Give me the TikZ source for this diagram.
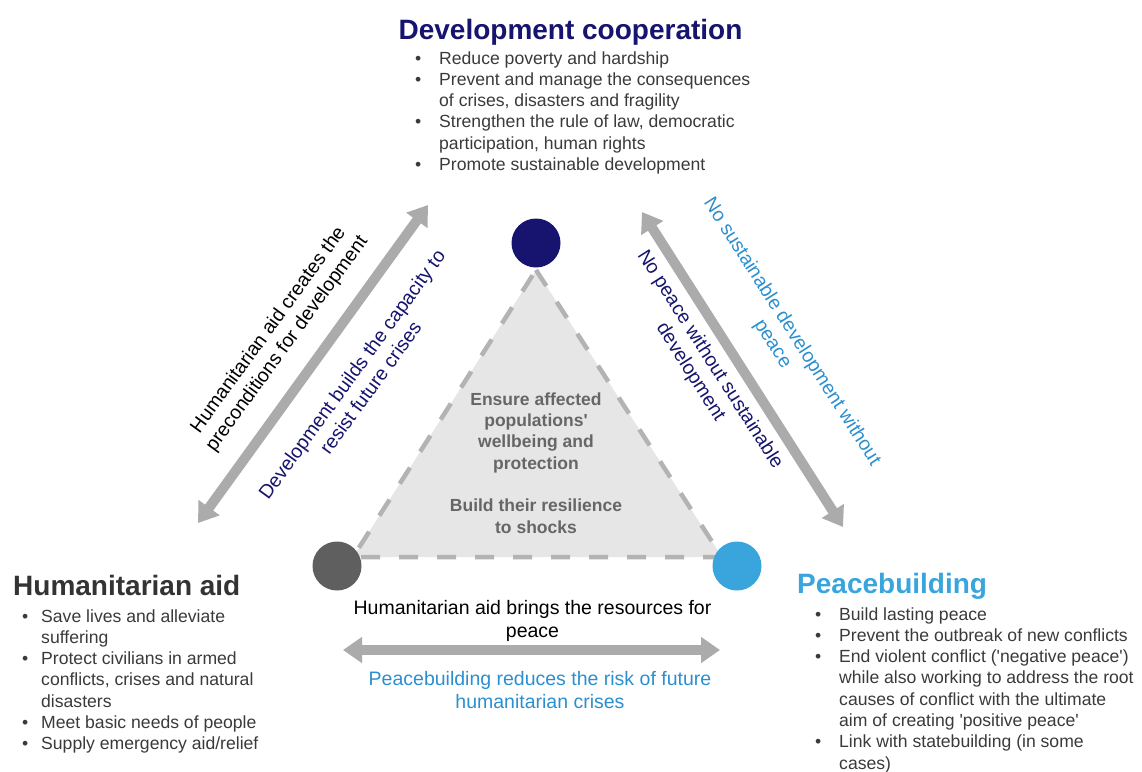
\documentclass[tikz,border=0pt]{standalone}
\usepackage{fontspec}
\setmainfont{Liberation Sans}
\usetikzlibrary{arrows.meta,positioning}
\definecolor{devblue}{HTML}{16146E}
\definecolor{peaceblue}{HTML}{3AA5DC}
\definecolor{peacetext}{HTML}{2B8FCF}
\definecolor{humgrey}{HTML}{5F5F5F}
\definecolor{humhead}{HTML}{333333}
\definecolor{bodytext}{HTML}{3A3A3A}
\definecolor{arrowgrey}{HTML}{ABABAB}
\definecolor{trifill}{HTML}{E6E6E6}
\definecolor{tridash}{HTML}{B3B3B3}
\definecolor{tritext}{HTML}{666666}
% bullets: wide gap (top, right lists) and narrow gap (left list)
\newcommand{\bitem}{\makebox[24pt][l]{\textbullet}}
\newcommand{\bcont}{\hspace*{24pt}}
\newcommand{\nitem}{\makebox[19pt][l]{\textbullet}}
\newcommand{\ncont}{\hspace*{19pt}}
\newcommand{\sq}{\textquotesingle}
\tikzset{
  heading/.style={font=\fontsize{28}{33}\selectfont\bfseries,inner sep=0pt},
  blist/.style={font=\fontsize{17.6}{21.3}\selectfont,text=bodytext,align=left,inner sep=0pt,anchor=base west},
  dot/.style={circle,minimum size=49pt,inner sep=0pt},
  twoway/.style={draw=arrowgrey,line width=10pt,
    {Triangle[length=19pt,width=25pt]}-{Triangle[length=19pt,width=25pt]}},
  armlabel/.style={font=\fontsize{19.5}{23}\selectfont,align=center,inner sep=0pt},
  corelabel/.style={font=\fontsize{17.5}{21.3}\selectfont\bfseries,text=tritext,align=center,inner sep=0pt},
}

\begin{document}
\begin{tikzpicture}[x=1pt,y=-1pt]
  \useasboundingbox (0,0) rectangle (1142,771);
  % inner triangle
  \coordinate (tri-top) at (536,270);
  \coordinate (tri-left) at (353,557);
  \coordinate (tri-right) at (722,557);
  \draw[fill=trifill,draw=tridash,line width=4.5pt,dash pattern=on 19pt off 19pt]
    (tri-top) -- (tri-right) -- (tri-left) -- cycle;
  % base anchor = baseline of the last line
  \node[corelabel,anchor=base] (core1) at (536,469) {Ensure affected\\populations\sq\\wellbeing and\\protection};
  \node[corelabel,anchor=base] (core2) at (536,533) {Build their resilience\\to shocks};
  % the three corners
  \node[dot,fill=devblue] (devdot) at (536,243) {};
  \node[dot,fill=humgrey] (humdot) at (337,566) {};
  \node[dot,fill=peaceblue] (peacedot) at (737,566) {};
  % development cooperation
  \node[heading,text=devblue,anchor=base] (devhead) at (570.5,39) {Development cooperation};
  \node[blist] (devlist) at (415,170.5) {\bitem Reduce poverty and hardship\\
    \bitem Prevent and manage the consequences\\
    \bcont of crises, disasters and fragility\\
    \bitem Strengthen the rule of law, democratic\\
    \bcont participation, human rights\\
    \bitem Promote sustainable development};
  % humanitarian aid
  \node[heading,text=humhead,anchor=base west] (humhead) at (13,595) {Humanitarian aid};
  \node[blist] (humlist) at (22,749.8) {\nitem Save lives and alleviate\\
    \ncont suffering\\
    \nitem Protect civilians in armed\\
    \ncont conflicts, crises and natural\\
    \ncont disasters\\
    \nitem Meet basic needs of people\\
    \nitem Supply emergency aid/relief};
  % peacebuilding
  \node[heading,text=peaceblue,anchor=base west] (peacehead) at (797,593) {Peacebuilding};
  \node[blist] (peacelist) at (815,769.1) {\bitem Build lasting peace\\
    \bitem Prevent the outbreak of new conflicts\\
    \bitem End violent conflict (\sq negative peace\sq)\\
    \bcont while also working to address the root\\
    \bcont causes of conflict with the ultimate\\
    \bcont aim of creating \sq positive peace\sq\\
    \bitem Link with statebuilding (in some\\
    \bcont cases)};
  % two-way arrows between the fields
  \coordinate (hd-lo) at (198,523);
  \coordinate (hd-hi) at (428,205);
  \coordinate (dp-hi) at (642,212);
  \coordinate (dp-lo) at (843,527);
  \coordinate (hp-l) at (343,650);
  \coordinate (hp-r) at (720,650);
  \draw[twoway] (hd-lo) -- (hd-hi);
  \draw[twoway] (dp-hi) -- (dp-lo);
  \draw[twoway] (hp-l) -- (hp-r);
  % arrow labels
  \node[armlabel,rotate=54,text=black] (hdlab1) at (278,337) {Humanitarian aid creates the\\preconditions for development};
  \node[armlabel,rotate=54,text=devblue] (hdlab2) at (361,381) {Development builds the capacity to\\resist future crises};
  \node[armlabel,rotate=-57.5,text=peacetext] (dplab1) at (782,338) {No sustainable development without\\peace};
  \node[armlabel,rotate=-57.5,text=devblue] (dplab2) at (700,366) {No peace without sustainable\\development};
  \node[armlabel,anchor=base,text=black] (hplab1) at (532.5,637) {Humanitarian aid brings the resources for\\peace};
  \node[armlabel,anchor=base,text=peacetext] (hplab2) at (540,708) {Peacebuilding reduces the risk of future\\humanitarian crises};
\end{tikzpicture}
\end{document}
